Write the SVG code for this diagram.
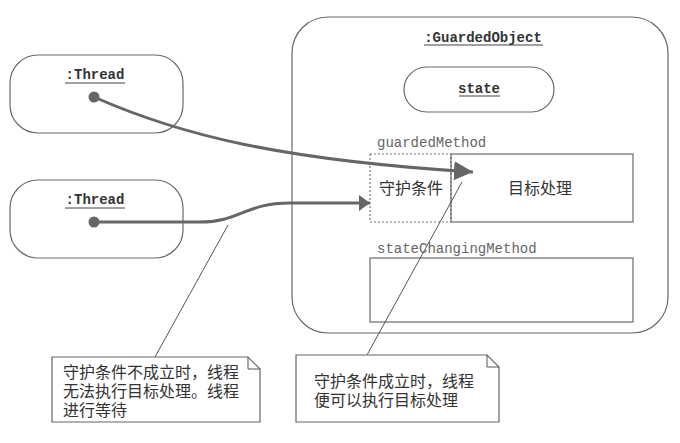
<svg xmlns="http://www.w3.org/2000/svg" width="680" height="443" viewBox="0 0 680 443">
<defs>
<style>
.box{fill:none;stroke:#6a6a6a;stroke-width:1.2}
.title{font-family:"Liberation Mono",monospace;font-weight:bold;font-size:14px;fill:#333;text-anchor:middle}
.ul{stroke:#444;stroke-width:1}
.mono{font-family:"Liberation Mono",monospace;font-size:14px;fill:#666}
.cjk{font-family:"Liberation Sans","Noto Sans CJK SC",sans-serif;font-size:16px;fill:#333}
.conn{fill:none;stroke:#666;stroke-width:3}
.lead{fill:none;stroke:#555;stroke-width:1}
.note{fill:#fff;stroke:#666;stroke-width:1.2}
</style>
<marker id="ahBig" viewBox="0 0 19 19" refX="19" refY="9.5" markerWidth="19" markerHeight="19" markerUnits="userSpaceOnUse" orient="auto">
<path d="M0,0 L19,9.5 L0,19 z" fill="#666"/>
</marker>
<marker id="ahSmall" viewBox="0 0 11 16" refX="11" refY="8" markerWidth="11" markerHeight="16" markerUnits="userSpaceOnUse" orient="auto">
<path d="M0,0 L11,8 L0,16 z" fill="#666"/>
</marker>
</defs>
<rect width="680" height="443" fill="#fff"/>

<g id="guardedObject">
<rect class="box" x="292" y="17" width="376" height="316" rx="36" ry="36"/>
<text class="title" x="483" y="42">:GuardedObject</text>
<line class="ul" x1="424" y1="45" x2="543" y2="45"/>
</g>
<g id="state">
<rect class="box" x="404" y="67" width="150" height="45" rx="22.5" ry="22.5"/>
<text class="title" x="479" y="93">state</text>
<line class="ul" x1="459" y1="96" x2="500" y2="96"/>
</g>
<g id="guardedMethod">
<text class="mono" x="377" y="147">guardedMethod</text>
<rect x="370" y="154" width="81" height="68" fill="none" stroke="#777" stroke-width="1.2" stroke-dasharray="2,2"/>
<text class="cjk" x="411" y="194" text-anchor="middle">守护条件</text>
</g>
<g id="targetProcess">
<rect class="box" x="451" y="154" width="182" height="68"/>
<text class="cjk" x="540" y="194" text-anchor="middle">目标处理</text>
</g>
<g id="stateChangingMethod">
<text class="mono" x="377" y="253">stateChangingMethod</text>
<rect class="box" x="370" y="258" width="263" height="64"/>
</g>

<g id="thread1">
<rect class="box" x="10" y="55" width="173" height="78" rx="28" ry="28"/>
<text class="title" x="95" y="79">:Thread</text>
<line class="ul" x1="65" y1="83" x2="125" y2="83"/>
<circle cx="94" cy="97" r="5.5" fill="#666"/>
</g>
<g id="thread2">
<rect class="box" x="10" y="180" width="173" height="78" rx="28" ry="28"/>
<text class="title" x="95" y="204">:Thread</text>
<line class="ul" x1="65" y1="208" x2="125" y2="208"/>
<circle cx="94" cy="222" r="5.5" fill="#666"/>
</g>

<g id="connectors">
<path class="conn" d="M94,97 C180,135 280,160 473,172" marker-end="url(#ahBig)"/>
<path class="conn" d="M94,222 L200,222 C240,222 245,203 290,203 L370,203" marker-end="url(#ahSmall)"/>
<line class="lead" x1="228" y1="225" x2="155" y2="357"/>
<line class="lead" x1="462" y1="182" x2="367" y2="355"/>
</g>

<g id="note1">
<path class="note" d="M52,357 L248,357 L260,369 L260,422 L52,422 Z"/>
<path class="lead" d="M248,357 L248,369 L260,369"/>
<text class="cjk"><tspan x="63" y="378">守护条件不成立时，线程</tspan><tspan x="63" y="397">无法执行目标处理。线程</tspan><tspan x="63" y="416">进行等待</tspan></text>
</g>
<g id="note2">
<path class="note" d="M296,355 L487,355 L499,367 L499,422 L296,422 Z"/>
<path class="lead" d="M487,355 L487,367 L499,367"/>
<text class="cjk"><tspan x="314" y="387">守护条件成立时，线程</tspan><tspan x="314" y="406">便可以执行目标处理</tspan></text>
</g>
</svg>
